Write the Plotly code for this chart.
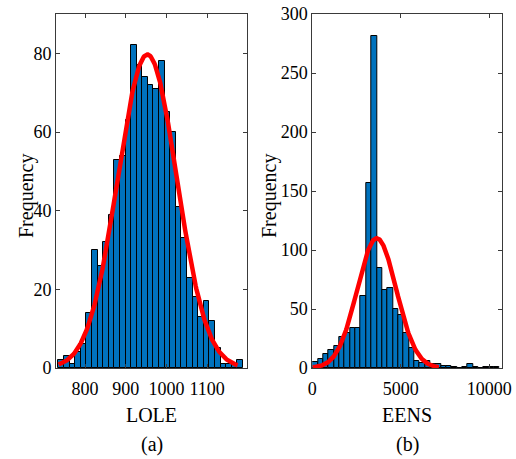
import numpy as np
import plotly.graph_objects as go
from plotly.subplots import make_subplots

# ---- data ----
lole_bin_start = 734.5
lole_bin_width = 13.74
lole_counts = [2, 3, 1, 4, 6, 14, 30, 26, 32, 39, 53, 54, 63, 82,
               77, 74, 72, 71, 78, 65, 60, 41, 33, 23, 18, 13, 17, 12,
               5, 1, 1, 1, 2]
lole_fit_mean = 953.0
lole_fit_sigma = 72.6
lole_fit_peak = 79.7
lole_fit_span = [735.0, 1175.0]

eens_bin_start = 20.0
eens_bin_width = 302.0
eens_counts = [5, 8, 12, 15, 19, 26, 30, 34, 34, 61, 157, 281,
               85, 66, 68, 50, 45, 30, 17, 6, 4, 6, 3, 3, 2, 2,
               1, 0, 1, 3, 1, 0, 1, 1, 1]
eens_fit_mean = 3640.0
eens_fit_sigma = 1104.0
eens_fit_peak = 110.0
eens_fit_span = [20.0, 7150.0]

lole_xticks = [800, 900, 1000, 1100]
lole_yticks = [0, 20, 40, 60, 80]
eens_xticks = [0, 5000, 10000]
eens_yticks = [0, 50, 100, 150, 200, 250, 300]

BAR_COLOR = "#0072BD"
FIT_COLOR = "#FF0000"
FONT = "Liberation Serif, Times New Roman, serif"
AX_COLOR = "#3a3a3a"

W, H = 516, 459


def px(x):
    return x / W


def py(y):
    return 1 - y / H


def centers(start, width, n):
    return start + width * (np.arange(n) + 0.5)


def fit_curve(mean, sigma, peak, span):
    x = np.linspace(span[0], span[1], 300)
    return x, peak * np.exp(-0.5 * ((x - mean) / sigma) ** 2)


fig = make_subplots(rows=1, cols=2)

fig.add_trace(go.Bar(
    x=centers(lole_bin_start, lole_bin_width, len(lole_counts)),
    y=lole_counts, width=lole_bin_width,
    marker=dict(color=BAR_COLOR, line=dict(color="#000000", width=1)),
    showlegend=False), row=1, col=1)
fx, fy = fit_curve(lole_fit_mean, lole_fit_sigma, lole_fit_peak, lole_fit_span)
fig.add_trace(go.Scatter(x=fx, y=fy, mode="lines",
                         line=dict(color=FIT_COLOR, width=4.5),
                         showlegend=False), row=1, col=1)

fig.add_trace(go.Bar(
    x=centers(eens_bin_start, eens_bin_width, len(eens_counts)),
    y=eens_counts, width=eens_bin_width,
    marker=dict(color=BAR_COLOR, line=dict(color="#000000", width=1)),
    showlegend=False), row=1, col=2)
gx, gy = fit_curve(eens_fit_mean, eens_fit_sigma, eens_fit_peak, eens_fit_span)
fig.add_trace(go.Scatter(x=gx, y=gy, mode="lines",
                         line=dict(color=FIT_COLOR, width=4.5),
                         showlegend=False), row=1, col=2)

axis_common = dict(showline=True, linecolor=AX_COLOR, linewidth=1,
                   mirror="ticks", ticks="inside", ticklen=4,
                   tickcolor=AX_COLOR, showgrid=False, zeroline=False,
                   automargin=False, tickformat="d",
                   ticklabeloverflow="allow",
                   tickfont=dict(family=FONT, size=18, color="#000000"),
                   title_font=dict(family=FONT, size=20, color="#000000"))

text_font = dict(family=FONT, size=20, color="#000000")

fig.update_layout(
    width=W, height=H,
    margin=dict(l=0, r=0, t=0, b=0),
    paper_bgcolor="#ffffff", plot_bgcolor="#ffffff",
    bargap=0, barmode="overlay",
    font=dict(family=FONT, size=18, color="#000000"),
    xaxis=dict(axis_common, domain=[px(56), px(247)], range=[728.5, 1198],
               tickvals=lole_xticks, ticklabelstandoff=4,
               title=dict(text="LOLE", standoff=10)),
    yaxis=dict(axis_common, domain=[py(368), py(14)], range=[0, 90],
               tickvals=lole_yticks),
    xaxis2=dict(axis_common, domain=[px(312.3), px(501.7)], range=[0, 10700],
                tickvals=eens_xticks, ticklabelstandoff=4,
                title=dict(text="EENS", standoff=10)),
    yaxis2=dict(axis_common, domain=[py(368), py(14)], range=[0, 300],
                tickvals=eens_yticks),
    annotations=[
        dict(text="Frequency", xref="paper", yref="paper", x=px(27), y=py(196),
             textangle=-90, showarrow=False, xanchor="center",
             yanchor="middle", font=text_font),
        dict(text="Frequency", xref="paper", yref="paper", x=px(270), y=py(196),
             textangle=-90, showarrow=False, xanchor="center",
             yanchor="middle", font=text_font),
        dict(text="(a)", xref="paper", yref="paper", x=px(151.5), y=py(444),
             showarrow=False, xanchor="center", yanchor="middle",
             font=text_font),
        dict(text="(b)", xref="paper", yref="paper", x=px(407), y=py(444),
             showarrow=False, xanchor="center", yanchor="middle",
             font=text_font),
    ],
)

fig.write_html("out.html",
               config={"displayModeBar": False},
               post_script="document.body.style.margin='0';"
                           "document.body.style.overflow='hidden';")
